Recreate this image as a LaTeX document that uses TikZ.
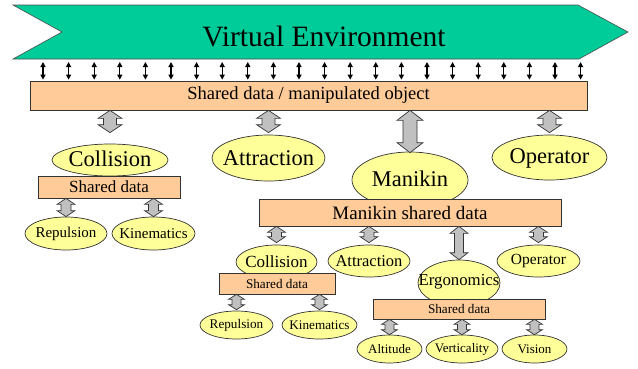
\documentclass[tikz,border=0pt]{standalone}
\usepackage{fontspec}
\setmainfont{Liberation Serif}
\usetikzlibrary{calc,arrows.meta,shapes.geometric}
\definecolor{vegreen}{HTML}{00CC99}
\definecolor{peach}{HTML}{FFCC99}
\definecolor{lyellow}{HTML}{FFFF99}
\definecolor{agray}{HTML}{C0C0C0}
\newcommand\fs[1]{\fontsize{#1}{#1}\selectfont}
% #1 start (top), #2 end (bottom), #3 half head width, #4 half shaft width, #5 head length
\newcommand\dblarr[5]{\path[barrow] let \p1=#1, \p2=#2 in
  (\x1,\y1) -- (\x1+#3pt,\y1-#5pt) -- (\x1+#4pt,\y1-#5pt) -- (\x1+#4pt,\y2+#5pt)
  -- (\x1+#3pt,\y2+#5pt) -- (\x1,\y2) -- (\x1-#3pt,\y2+#5pt) -- (\x1-#4pt,\y2+#5pt)
  -- (\x1-#4pt,\y1-#5pt) -- (\x1-#3pt,\y1-#5pt) -- cycle;}
\begin{document}
\begin{tikzpicture}[x=1pt,y=-1pt,
  databox/.style={rectangle, draw=black!80, line width=0.7pt, fill=peach, inner sep=0pt},
  ell/.style={ellipse, draw=black!80, line width=0.7pt, fill=lyellow, inner sep=0pt},
  barrow/.style={draw=black!80, line width=0.7pt, fill=agray, line join=miter},
  blk/.style={line width=1.3pt, {Triangle[width=5pt,length=5pt]}-{Triangle[width=5pt,length=5pt]},
    shorten <=3pt, shorten >=1pt},
  txt/.style={inner sep=0pt}]
\useasboundingbox (0,0) rectangle (638,368);
% banner
\draw[fill=vegreen, draw=black!70, line width=0.6pt] (13,5) -- (578,5) -- (628,32) -- (579,59) -- (13,59) -- (62,32) -- cycle;
\coordinate (vb) at (13,59);
\node[txt, font=\fs{29.5}] (ve) at (324,36.5) {Virtual Environment};
% top box
\node[databox, minimum width=557pt, minimum height=29pt, font=\fs{18.5}] (box0) at (308.5,95.5) {Shared data / manipulated object};
\foreach \i in {0,...,21}{
  \draw[blk] ($(vb)+({30+25.6*\i},0)$) coordinate (t\i) -- (t\i |- box0.north);
}
% level 1 ellipses
\node[ell, minimum width=116pt, minimum height=32pt] (coll1) at (110,160) {};
\node[txt, font=\fs{22.5}] (coll1t) at (110,159) {Collision};
\node[ell, minimum width=113pt, minimum height=46pt] (attr1) at (268.5,158) {};
\node[txt, font=\fs{22.5}] (attr1t) at (268.5,158) {Attraction};
\node[ell, minimum width=116pt, minimum height=56pt] (mani1) at (410,180) {};
\node[txt, font=\fs{22.5}] (mani1t) at (410,179) {Manikin};
\node[ell, minimum width=115pt, minimum height=45pt] (oper1) at (549.5,157.5) {};
\node[txt, font=\fs{22.5}] (oper1t) at (549.5,158) {Operator};
% level 1 collision subtree
\node[databox, minimum width=142pt, minimum height=22pt, font=\fs{17}] (sd1) at (109,187) {Shared data};
\node[ell, minimum width=82pt, minimum height=33pt] (rep1) at (66,233.5) {};
\node[txt, font=\fs{15}] (rep1t) at (66,233.5) {Repulsion};
\node[ell, minimum width=83pt, minimum height=33pt] (kin1) at (153.5,233.5) {};
\node[txt, font=\fs{15}] (kin1t) at (153.5,233.5) {Kinematics};
% level 2 ellipses
\node[ell, minimum width=81pt, minimum height=34pt] (coll2) at (276.5,262) {};
\node[txt, font=\fs{17}] (coll2t) at (276.5,262) {Collision};
\node[ell, minimum width=82pt, minimum height=32pt] (attr2) at (369,261) {};
\node[txt, font=\fs{16.5}] (attr2t) at (369,261) {Attraction};
\node[ell, minimum width=83pt, minimum height=32pt] (oper2) at (538.5,261) {};
\node[txt, font=\fs{15.5}] (oper2t) at (538.5,261) {Operator};
\node[ell, minimum width=82pt, minimum height=46pt] (ergo) at (459,283) {};
\node[txt, font=\fs{16.8}] (ergot) at (459,282) {Ergonomics};
% manikin box
\node[databox, minimum width=302pt, minimum height=27pt, font=\fs{19}] (sdm) at (410,212.5) {Manikin shared data};
\node[databox, minimum width=116pt, minimum height=21pt, font=\fs{13.2}] (sd2L) at (277,283.5) {Shared data};
\node[databox, minimum width=172pt, minimum height=20pt, font=\fs{13.2}] (sd2R) at (459,309) {Shared data};
% level 3
\node[ell, minimum width=73pt, minimum height=28pt] (rep2) at (236.5,325) {};
\node[txt, font=\fs{13.2}] (rep2t) at (236.5,325) {Repulsion};
\node[ell, minimum width=75pt, minimum height=28pt] (kin2) at (319.5,325) {};
\node[txt, font=\fs{13.2}] (kin2t) at (319.5,325) {Kinematics};
\node[ell, minimum width=65pt, minimum height=28pt] (alt) at (389.5,349) {};
\node[txt, font=\fs{13}] (altt) at (389.5,349) {Altitude};
\node[ell, minimum width=72pt, minimum height=28pt] (vert) at (462,349) {};
\node[txt, font=\fs{13}] (vertt) at (462,349) {Verticality};
\node[ell, minimum width=65pt, minimum height=28pt] (vis) at (534.5,349) {};
\node[txt, font=\fs{13}] (vist) at (534.5,349) {Vision};
% gray double arrows
\dblarr{(box0.south -| coll1.north)}{([yshift=11pt]coll1.north)}{12}{6.5}{8}
\dblarr{(box0.south -| attr1.north)}{([yshift=2pt]attr1.north)}{12}{6.5}{8}
\dblarr{(box0.south -| mani1.north)}{([yshift=-1pt]mani1.north)}{13}{7}{10}
\dblarr{(box0.south -| oper1.north)}{([yshift=2pt]oper1.north)}{12}{6.5}{8}
\dblarr{(sd1.south -| rep1.north)}{(rep1.north)}{9}{5}{6}
\dblarr{(sd1.south -| kin1.north)}{(kin1.north)}{9}{5}{6}
\dblarr{(sdm.south -| coll2.north)}{([yshift=2pt]coll2.north)}{9}{5}{6}
\dblarr{(sdm.south -| attr2.north)}{([yshift=2pt]attr2.north)}{9}{5}{6}
\dblarr{(sdm.south -| ergo.north)}{(ergo.north)}{9}{4.5}{7}
\dblarr{(sdm.south -| oper2.north)}{([yshift=2pt]oper2.north)}{9}{5}{6}
\dblarr{(sd2L.south -| rep2.north)}{([yshift=1pt]rep2.north)}{8}{4.5}{5}
\dblarr{(sd2L.south -| kin2.north)}{([yshift=1pt]kin2.north)}{8}{4.5}{5}
\dblarr{(sd2R.south -| alt.north)}{(alt.north)}{8}{4.5}{5}
\dblarr{(sd2R.south -| vert.north)}{(vert.north)}{8}{4.5}{5}
\dblarr{(sd2R.south -| vis.north)}{(vis.north)}{8}{4.5}{5}
\end{tikzpicture}
\end{document}
